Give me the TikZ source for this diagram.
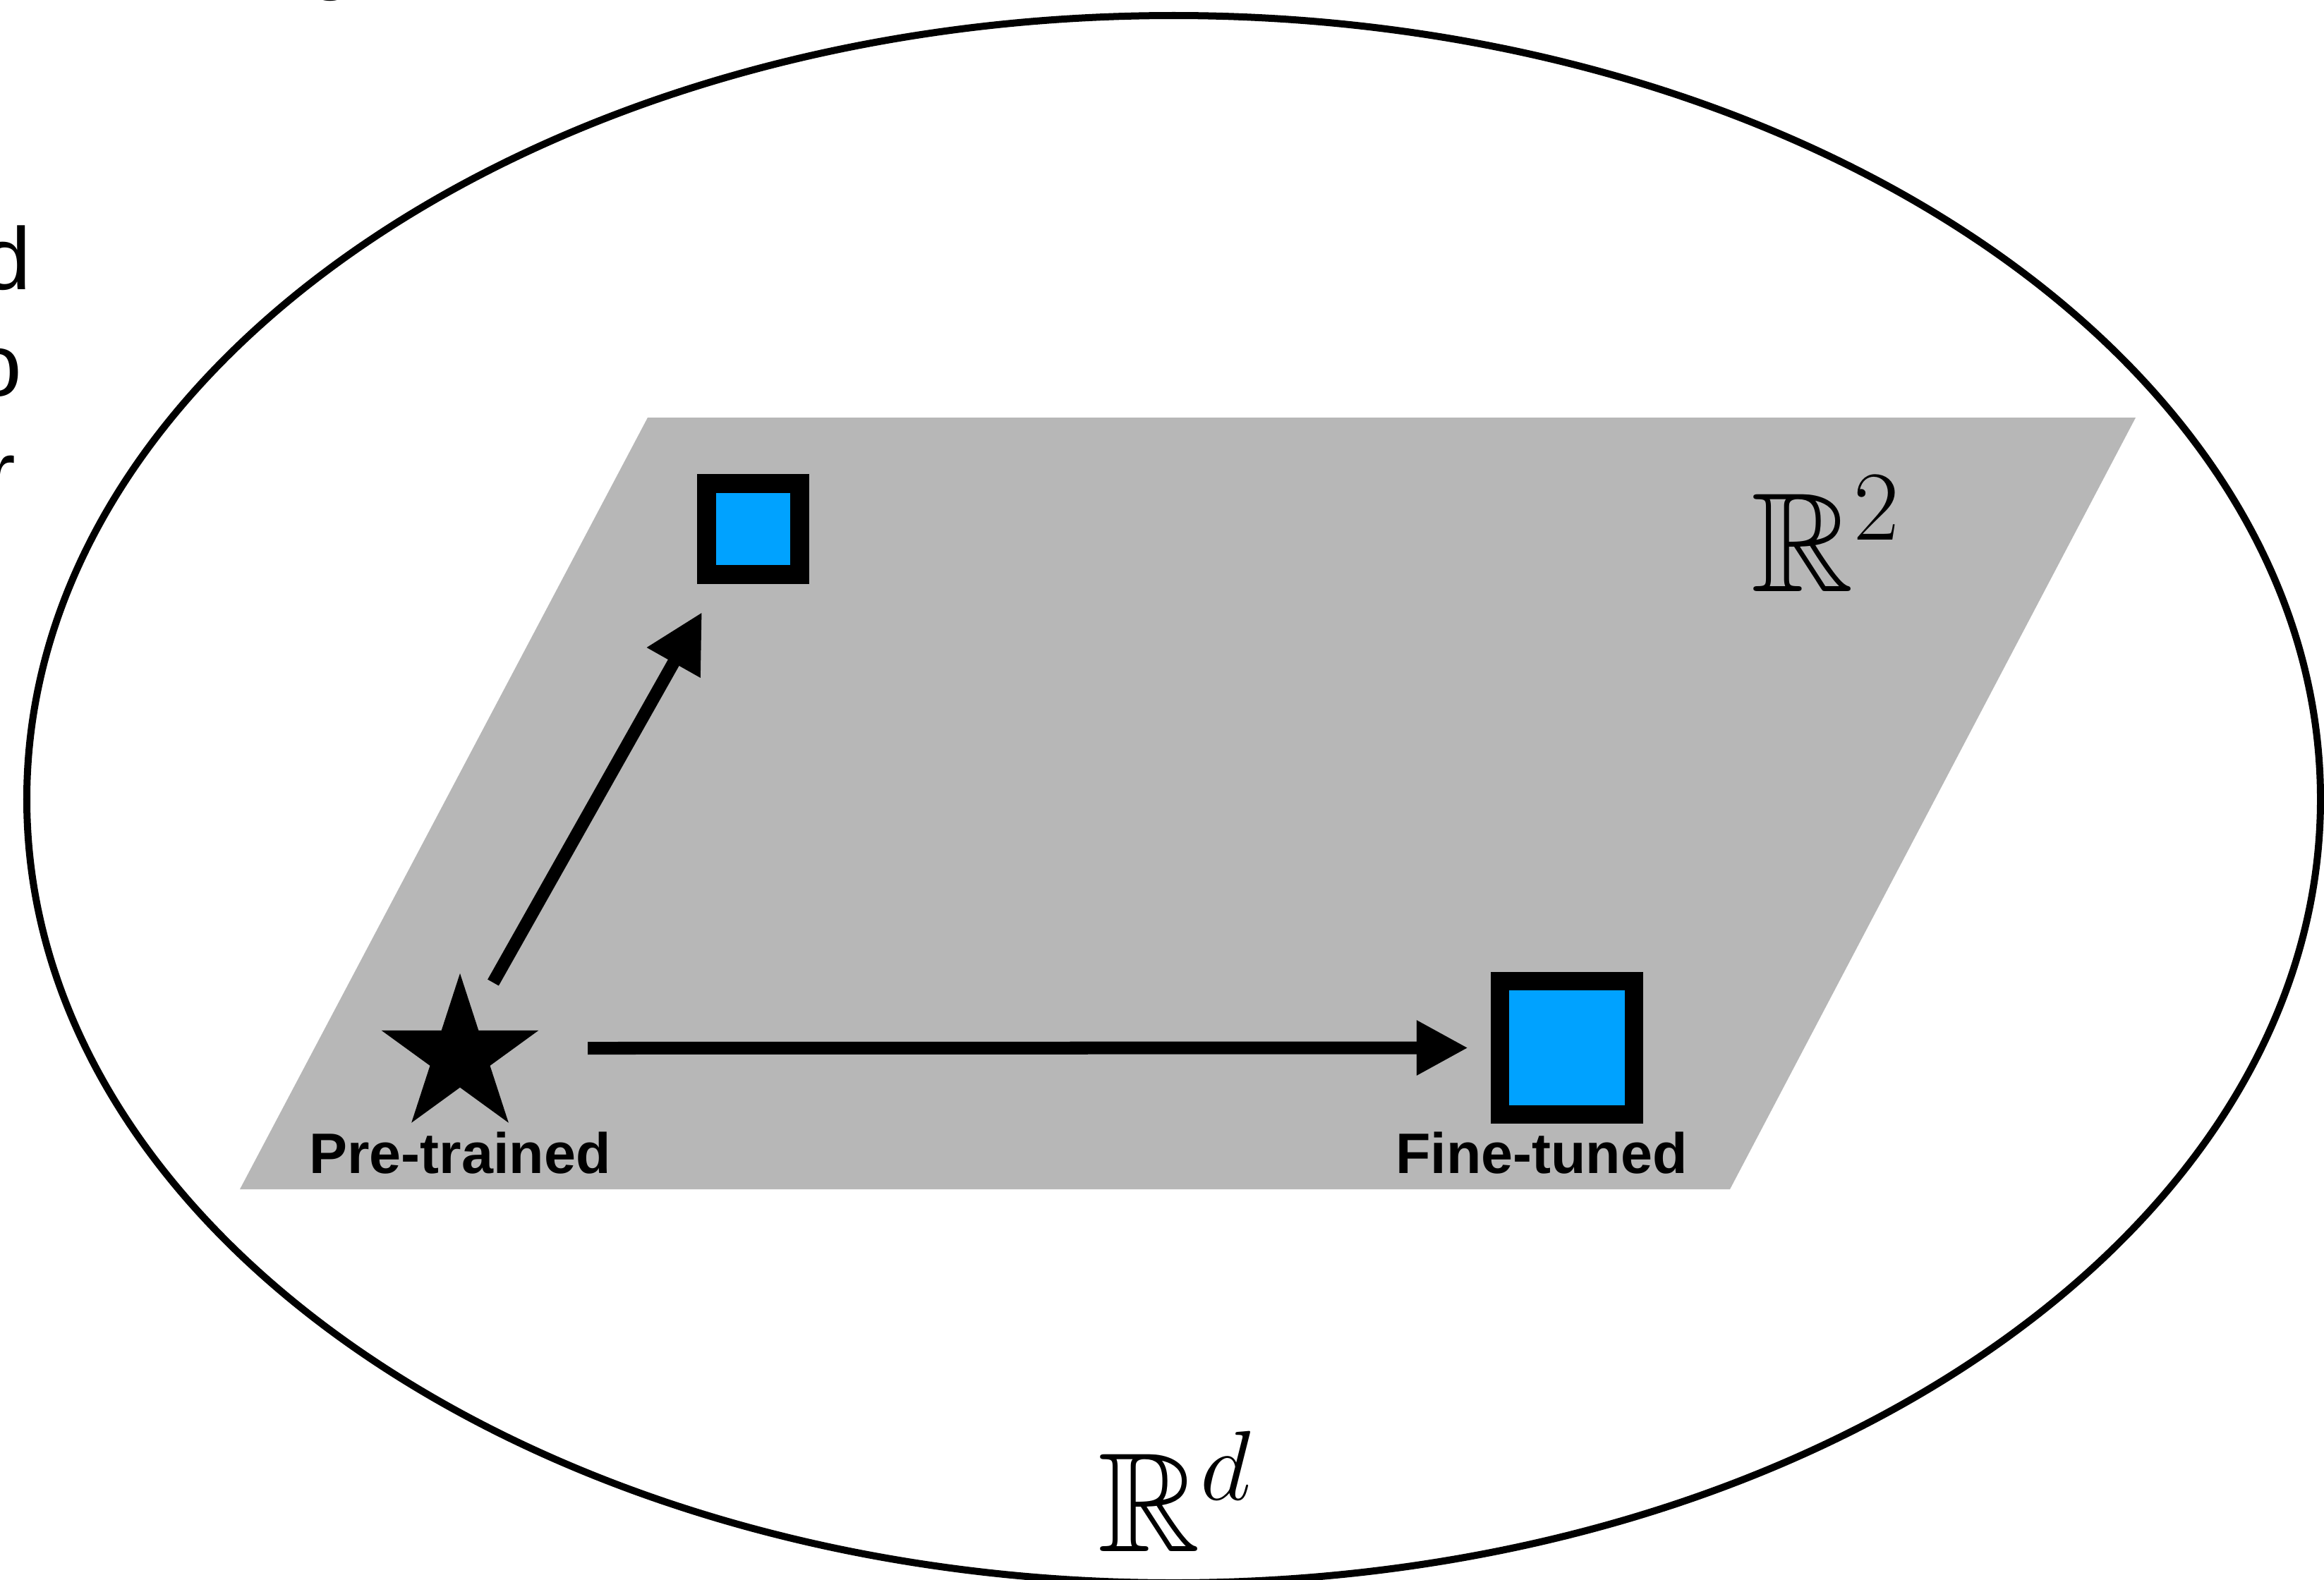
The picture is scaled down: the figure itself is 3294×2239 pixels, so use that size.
\RequirePackage{fix-cm}
\documentclass[tikz,border=0pt]{standalone}
\usepackage{amssymb}
\usepackage{fontspec}
\setmainfont{Liberation Sans}
\usetikzlibrary{arrows.meta,shapes.geometric}
\definecolor{planegray}{RGB}{183,183,183}
\definecolor{ptblue}{RGB}{0,162,255}
\begin{document}
\begin{tikzpicture}[x=0.01cm,y=-0.01cm,
  sq/.style={draw=black, fill=ptblue, line width=0.265cm, inner sep=0pt},
  arr/.style={line width=0.18cm},
  lbl/.style={font=\fontsize{23}{27}\selectfont\bfseries, inner sep=0pt, anchor=base},
  mathlbl/.style={font=\fontsize{57}{60}\selectfont, inner sep=0pt, anchor=base west},
  sliver/.style={font=\fontsize{35.6}{40}\selectfont, inner sep=0pt}]
\useasboundingbox (0,0) rectangle (3294,2239);
\clip (0,0) rectangle (3294,2239);
% cut-off text at the left and top edges
\node[sliver, anchor=base east] (cd) at (45,410) {d};
\node[sliver, anchor=base east] (co) at (32,561) {o};
\node[sliver, anchor=base east] (cr) at (23,713) {r};
\node[sliver, anchor=base] (ctop) at (468,1) {o};
% outer space
\draw[line width=0.1cm] (1663.5,1133) ellipse [x radius=1625.5, y radius=1111];
% plane
\fill[planegray] (918,592) -- (3027,592) -- (2452,1686) -- (340,1686) -- cycle;
% points
\node[star, star points=5, star point ratio=2.618, fill=black, inner sep=0pt, minimum size=2.34cm] (pre) at (652,1497) {};
\node[sq, minimum width=1.32cm, minimum height=1.29cm] (small) at (1067.5,750) {};
\node[sq, minimum width=1.895cm, minimum height=1.885cm] (big) at (2221,1485.5) {};
% labels
\node[lbl] (prelbl) at (652,1663) {Pre-trained};
\node[lbl] (ftlbl) at (2185,1663) {Fine-tuned};
\node[mathlbl] (r2) at (2482,838) {$\mathbb{R}^2$};
\node[mathlbl] (rd) at (1556,2199) {$\mathbb{R}^d$};
% arrows
\coordinate (h1) at (833,1486);
\coordinate (d1) at (699,1393);
\coordinate (d2) at (995,868);
\draw[arr, -{Triangle[length=0.73cm,width=0.73cm]}, shorten >=0.32cm] (h1) -- (big.west);
\draw[arr, -{Triangle[length=0.82cm,width=0.82cm]}] (d1) -- (d2);
\end{tikzpicture}
\end{document}
